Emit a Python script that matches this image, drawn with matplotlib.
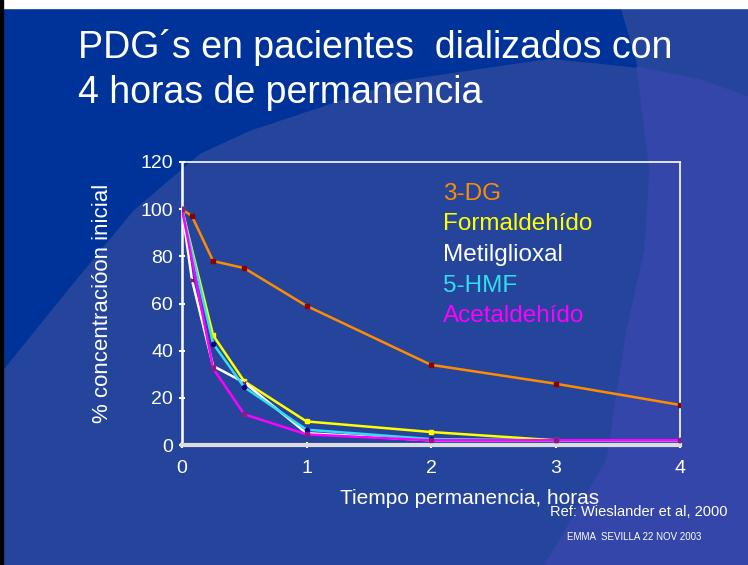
import matplotlib.pyplot as plt
from matplotlib.patches import Polygon, Rectangle

W, H = 748, 565

# data
series = ["3-DG", "Formaldehído", "Metilglioxal", "5-HMF", "Acetaldehído"]
colors = ["#ff8c00", "#ffff00", "#ffffff", "#33ddee", "#ff00ff"]
marker_colors = ["#8b0000", "#ffff00", "#7a1a6e", "#000080", "#8a1a8a"]

t_3dg = [0, 0.08, 0.25, 0.5, 1, 2, 3, 4]
c_3dg = [100, 97, 78, 75, 59, 34, 26, 17]

t_std = [0, 0.25, 0.5, 1, 2, 3, 4]
c_form = [100, 46.5, 27, 10, 5.5, 2, 2]
c_hmf = [100, 43, 24.5, 6.5, 2.5, 2, 2]
c_acet = [100, 32.5, 13, 4.5, 2, 2, 2]

t_metil = [0, 0.08, 0.25, 0.5, 1, 2, 3, 4]
c_metil = [100, 70, 33.5, 26.5, 5, 2, 2, 2]

yticks = [0, 20, 40, 60, 80, 100, 120]
xticks = [0, 1, 2, 3, 4]

plt.rcParams['font.family'] = ['Liberation Sans', 'DejaVu Sans']

fig = plt.figure(figsize=(W / 100, H / 100), dpi=100)


def px(pts):
    return [(x / W, 1 - y / H) for x, y in pts]


# slide background
fig.patches.append(Rectangle((0, 0), 1, 1, transform=fig.transFigure,
                             color="#24459b", zorder=-10))
dark = [(0, 8), (620, 8), (637, 67), (550, 58), (400, 80), (250, 130),
        (200, 153), (133, 210), (67, 290), (0, 373)]
fig.patches.append(Polygon(px(dark), closed=True, transform=fig.transFigure,
                           color="#003399", zorder=-9))
purple = [(637, 67), (700, 80), (748, 97), (748, 565), (545, 565), (607, 460),
          (627, 330), (645, 250), (650, 170)]
fig.patches.append(Polygon(px(purple), closed=True, transform=fig.transFigure,
                           color="#3446aa", zorder=-9))
fig.patches.append(Rectangle((0, 1 - 8 / H), 1, 8 / H, transform=fig.transFigure,
                             color="white", zorder=-8))
fig.patches.append(Rectangle((0, 0), 3 / W, 1, transform=fig.transFigure,
                             color="black", zorder=-8))

fig.text(78 / W, 1 - 58 / H, "PDG´s en pacientes  dializados con",
         color="white", fontsize=27, va="baseline")
fig.text(78 / W, 1 - 103 / H, "4 horas de permanencia",
         color="white", fontsize=27, va="baseline")

ax = fig.add_axes([182 / W, 1 - 445 / H, (680 - 182) / W, (445 - 162) / H])
ax.set_facecolor("none")

ax.plot(t_3dg, c_3dg, color=colors[0], lw=1.8, marker="s", ms=3,
        mfc=marker_colors[0], mec=marker_colors[0], zorder=3)
ax.plot(t_std, c_form, color=colors[1], lw=1.8, marker="s", ms=3,
        mfc=marker_colors[1], mec=marker_colors[1], zorder=3)
ax.plot(t_metil, c_metil, color=colors[2], lw=1.8, marker="x", ms=3,
        mfc=marker_colors[2], mec=marker_colors[2], zorder=3)
ax.plot(t_std, c_hmf, color=colors[3], lw=1.8, marker="o", ms=3,
        mfc=marker_colors[3], mec=marker_colors[3], zorder=3)
ax.plot(t_std, c_acet, color=colors[4], lw=1.8, marker="s", ms=3,
        mfc=marker_colors[4], mec=marker_colors[4], zorder=3)

ax.set_xlim(0, 4)
ax.set_ylim(0, 120)
ax.set_xticks(xticks)
ax.set_yticks(yticks)
for s in ["top", "right"]:
    ax.spines[s].set_color("white")
    ax.spines[s].set_linewidth(1.2)
ax.spines["left"].set_color("white")
ax.spines["left"].set_linewidth(1.8)
ax.spines["bottom"].set_color("#dddddd")
ax.spines["bottom"].set_linewidth(3)
ax.tick_params(colors="white", direction="inout", length=5, width=1.5,
               labelsize=14, pad=8)
ax.tick_params(axis="y", pad=4)

ax.set_xlabel("Tiempo permanencia, horas", color="white", fontsize=15)
ax.xaxis.set_label_coords(0.578, -0.155)
ax.set_ylabel("% concentracióon inicial", color="white", fontsize=16,
              labelpad=20)

# coloured legend as text
for i, (name, c) in enumerate(zip(series, colors)):
    ax.text(443 / W, 1 - (200 + 30.5 * i) / H, name, color=c, fontsize=17.5,
            transform=fig.transFigure, va="baseline")

fig.text(550 / W, 1 - 516 / H, "Ref: Wieslander et al, 2000", color="white",
         fontsize=10.5, va="baseline")
fig.text(567 / W, 1 - 540 / H, "EMMA  SEVILLA 22 NOV 2003", color="white",
         fontsize=7, va="baseline")

fig.savefig("out.png", dpi=100)
